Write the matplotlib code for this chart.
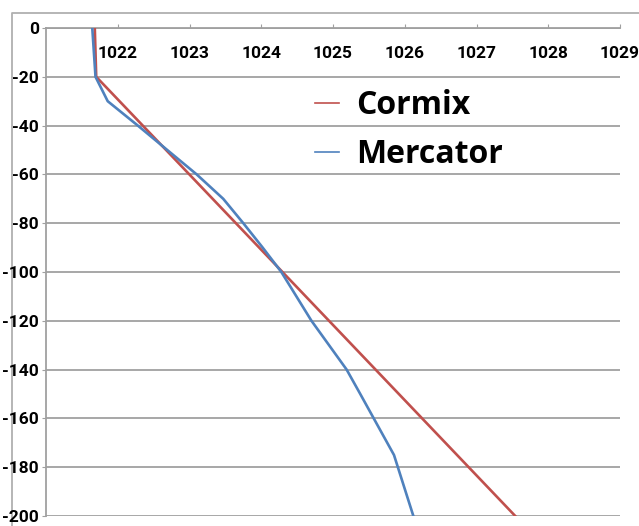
import matplotlib
matplotlib.use("Agg")
import matplotlib.pyplot as plt

# Data
cormix_depth = [0, -20, -200]
cormix_density = [1021.68, 1021.70, 1027.54]

mercator_depth = [0, -20, -30, -40, -50, -60, -70, -80, -90, -100, -120, -140, -150, -175, -200]
mercator_density = [1021.645, 1021.69, 1021.86, 1022.28, 1022.69, 1023.10, 1023.47, 1023.75,
                    1024.02, 1024.28, 1024.70, 1025.19, 1025.38, 1025.85, 1026.12]

x_ticks = [1022, 1023, 1024, 1025, 1026, 1027, 1028, 1029]
y_ticks = [0, -20, -40, -60, -80, -100, -120, -140, -160, -180, -200]

W, H = 639, 526
fig = plt.figure(figsize=(W / 100, H / 100), dpi=100)
fig.patch.set_facecolor("white")

# background axes for the outer chart frame (pixel coordinates)
bg = fig.add_axes([0, 0, 1, 1], zorder=-1)
bg.set_xlim(0, W)
bg.set_ylim(H, 0)
bg.axis("off")
bg.plot([11.5, 11.5, W + 5], [H + 5, 12.5, 12.5], color="#B0B0B0", lw=1.3, clip_on=False)

left, right = 46 / W, 620 / W
top, bottom = 1 - 28 / H, 1 - 516 / H
ax = fig.add_axes([left, bottom, right - left, top - bottom])
ax.patch.set_alpha(0)

grid_c = "#A0A0A0"
ax.plot(cormix_density, cormix_depth, color="#C0504D", lw=1.9, label="Cormix", zorder=3)
ax.plot(mercator_density, mercator_depth, color="#4F81BD", lw=1.9, label="Mercator", zorder=4)

ax.set_xlim(1021, 1029)
ax.set_ylim(-200, 0)

ax.set_yticks(y_ticks)
ax.set_xticks(x_ticks)
ax.yaxis.grid(True, color=grid_c, lw=1.3)
ax.set_axisbelow(True)

for s in ["right", "bottom"]:
    ax.spines[s].set_visible(False)
ax.spines["top"].set_color(grid_c)
ax.spines["top"].set_linewidth(1.3)
ax.spines["left"].set_color(grid_c)
ax.spines["left"].set_linewidth(1.3)

tick_font = dict(family=["Roboto", "DejaVu Sans"], weight="bold", size=12.5)
ax.xaxis.set_ticks_position("top")
ax.tick_params(axis="x", top=True, bottom=False, labeltop=True, labelbottom=False,
               direction="out", length=3, color=grid_c, pad=-27)
ax.tick_params(axis="y", direction="out", length=3, color=grid_c, pad=2)
ax.set_xticklabels([str(v) for v in x_ticks], fontdict=tick_font)
ax.set_yticklabels([str(v) for v in y_ticks], fontdict=tick_font)
for lab in ax.get_xticklabels():
    lab.set_va("bottom")

leg = ax.legend(loc="upper left", bbox_to_anchor=((315 - 46) / 574, 1 - (89 - 28) / 488),
                frameon=False, borderpad=0, borderaxespad=0,
                handlelength=0.75, handletextpad=0.55, labelspacing=0.5,
                prop=dict(family=["Open Sans", "DejaVu Sans"], weight="bold", size=23))
for l in leg.get_lines():
    l.set_linewidth(1.2)

fig.savefig("out.png", dpi=100, facecolor="white")
